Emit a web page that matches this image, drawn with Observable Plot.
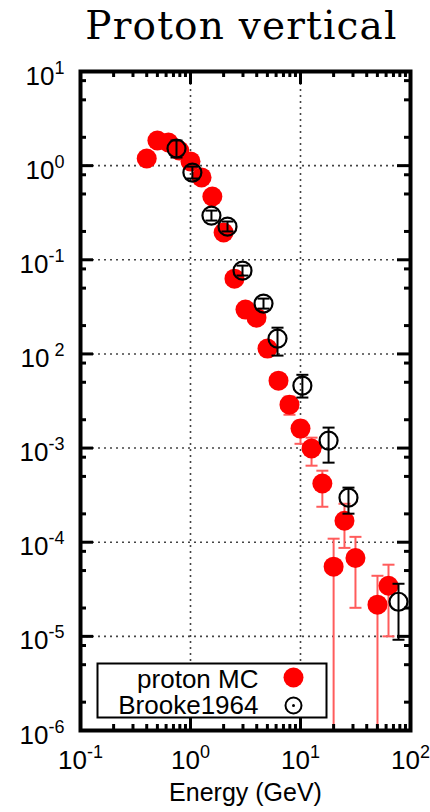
<!DOCTYPE html>
<html><head><meta charset="utf-8">
<script src="https://cdn.jsdelivr.net/npm/d3@7"></script>
<script src="https://cdn.jsdelivr.net/npm/@observablehq/plot@0.6"></script>
<style>html,body{margin:0;padding:0;background:#fff;}</style>
</head><body><div id="chart"></div>
<script>
// ---- data ----
const mcEnergy = [0.40, 0.50, 0.63, 0.79, 1.0, 1.26, 1.58, 2.0, 2.51, 3.16, 3.98, 5.01, 6.31, 7.94, 10.0, 12.6, 15.8, 20.0, 25.1, 31.6, 50.1, 63.1];
const mcFlux   = [1.19, 1.85, 1.76, 1.45, 1.11, 0.75, 0.47, 0.195, 0.063, 0.0296, 0.0243, 0.0114, 0.0052, 0.00289, 0.00161, 0.00099, 0.00042, 5.5e-5, 1.69e-4, 6.8e-5, 2.17e-5, 3.45e-5];
const mcErrLo  = [null, null, null, null, null, null, null, null, null, null, null, null, null, 0.00226, 0.00111, 0.00065, 0.000238, 0, 8.7e-5, 2.01e-5, 0, 1.0e-5];
const mcErrHi  = [null, null, null, null, null, null, null, null, null, null, null, null, null, 0.00352, 0.00195, 0.00129, 0.000575, 1.09e-4, 2.56e-4, 1.14e-4, 4.4e-5, 5.77e-5];

const bkEnergy = [0.746, 1.04, 1.55, 2.17, 2.97, 4.61, 6.18, 10.4, 18.0, 27.3, 77.8];
const bkFlux   = [1.52, 0.845, 0.295, 0.225, 0.0767, 0.0343, 0.01455, 0.0046, 0.0012, 2.97e-4, 2.33e-5];
const bkErrLo  = [1.22, 0.73, 0.261, 0.2, 0.068, 0.0303, 0.0096, 0.00344, 0.0007, 2.01e-4, 9.2e-6];
const bkErrHi  = [1.85, 0.977, 0.333, 0.255, 0.0867, 0.0387, 0.019, 0.006, 0.00165, 3.8e-4, 3.62e-5];

const xTicks = [0.1, 1, 10, 100];
const xTickLabels = ["10^-1", "10^0", "10^1", "10^2"];
const yTicks = [1e-6, 1e-5, 1e-4, 1e-3, 1e-2, 1e-1, 1, 10];
const yTickLabels = ["10^-6", "10^-5", "10^-4", "10^-3", "10^\u00a02", "10^-1", "10^0", "10^1"];
const xMinorMult = [2, 3, 4, 5, 6, 7, 8, 9];
const yMinorMult = [2, 5, 8];
const xDecades = [0.1, 1, 10];
const yDecades = [1e-6, 1e-5, 1e-4, 1e-3, 1e-2, 1e-1, 1];

const titleText = "Proton vertical";
const xLabel = "Energy (GeV)";
const legendLabels = ["proton MC", "Brooke1964"];

// ---- layout ----
const W = 430, H = 812, mL = 80, mR = 20, mT = 71, mB = 82;
const fw = W - mL - mR, fh = H - mT - mB;

const mc = mcEnergy.map((e, i) => ({e, f: mcFlux[i], lo: mcErrLo[i], hi: mcErrHi[i]}));
const mcErr = mc.filter(d => d.hi != null);
const bk = bkEnergy.map((e, i) => ({e, f: bkFlux[i], lo: bkErrLo[i], hi: bkErrHi[i]}));
const yMin = yTicks[0];

const xMinor = xDecades.flatMap(d => xMinorMult.map(m => d * m));
const yMinor = yDecades.flatMap(d => yMinorMult.map(m => d * m));
const xGrid = xTicks.slice(1, -1);
const yGrid = yTicks.slice(1, -1);

const capSym = {draw(ctx, size) { const w = Math.sqrt(size / Math.PI); ctx.moveTo(-w, 0); ctx.lineTo(w, 0); }};

const redErr = "#ff5c5c";
const majLen = 13, minLen = 6;

const svg = Plot.plot({
  width: W, height: H,
  marginLeft: mL, marginRight: mR, marginTop: mT, marginBottom: mB,
  style: {fontFamily: "'Liberation Sans', Arial, sans-serif", background: "#fff", color: "#000"},
  x: {type: "log", domain: [0.1, 100], axis: null},
  y: {type: "log", domain: [1e-6, 10], axis: null},
  marks: [
    // grid
    Plot.ruleX(xGrid, {x: d => d, stroke: "#444", strokeWidth: 1.6, strokeDasharray: "2,4"}),
    Plot.ruleY(yGrid, {y: d => d, stroke: "#444", strokeWidth: 1.6, strokeDasharray: "2,4"}),
    // proton MC error bars
    Plot.ruleX(mcErr, {x: "e", y1: d => Math.max(d.lo, yMin), y2: "hi", stroke: redErr, strokeWidth: 2}),
    Plot.dot(mcErr, {x: "e", y: "hi", symbol: capSym, r: 6, fill: "none", stroke: redErr, strokeWidth: 2}),
    Plot.dot(mcErr.filter(d => d.lo > 0), {x: "e", y: "lo", symbol: capSym, r: 6, fill: "none", stroke: redErr, strokeWidth: 2}),
    Plot.dot(mc, {x: "e", y: "f", r: 10, fill: "#ff0000", stroke: "none"}),
    // Brooke1964
    Plot.ruleX(bk, {x: "e", y1: "lo", y2: "hi", stroke: "#000", strokeWidth: 2}),
    Plot.dot(bk, {x: "e", y: "hi", symbol: capSym, r: 6, fill: "none", stroke: "#000", strokeWidth: 2}),
    Plot.dot(bk, {x: "e", y: "lo", symbol: capSym, r: 6, fill: "none", stroke: "#000", strokeWidth: 2}),
    Plot.dot(bk, {x: "e", y: "f", r: 9, fill: "none", stroke: "#000", strokeWidth: 2.2}),
    // frame
    Plot.frame({stroke: "#000", strokeWidth: 4}),
    // ticks: bottom, top, left, right
    Plot.ruleX(xTicks, {x: d => d, insetTop: fh - majLen, stroke: "#000", strokeWidth: 3}),
    Plot.ruleX(xTicks, {x: d => d, insetBottom: fh - majLen, stroke: "#000", strokeWidth: 3}),
    Plot.ruleX(xMinor, {x: d => d, insetTop: fh - minLen, stroke: "#000", strokeWidth: 3}),
    Plot.ruleX(xMinor, {x: d => d, insetBottom: fh - minLen, stroke: "#000", strokeWidth: 3}),
    Plot.ruleY(yTicks, {y: d => d, insetRight: fw - majLen, stroke: "#000", strokeWidth: 3}),
    Plot.ruleY(yTicks, {y: d => d, insetLeft: fw - majLen, stroke: "#000", strokeWidth: 3}),
    Plot.ruleY(yMinor, {y: d => d, insetRight: fw - minLen, stroke: "#000", strokeWidth: 3}),
    Plot.ruleY(yMinor, {y: d => d, insetLeft: fw - minLen, stroke: "#000", strokeWidth: 3}),
    // tick labels
    Plot.text(yTicks, {x: () => 0.1, y: d => d, text: (d, i) => yTickLabels[i], textAnchor: "end", lineAnchor: "bottom", dx: -16, dy: 13, fontSize: 26, fill: "#000"}),
    Plot.text(xTicks, {x: d => d, y: () => yMin, text: (d, i) => xTickLabels[i], textAnchor: "middle", lineAnchor: "bottom", dy: 38, fontSize: 26, fill: "#000"}),
    // axis label & title
    Plot.text([xLabel], {text: d => d, frameAnchor: "bottom", lineAnchor: "bottom", dy: 70, fontSize: 25, fill: "#000"}),
    Plot.text([titleText], {text: d => d, frameAnchor: "top", lineAnchor: "bottom", dy: -33, dx: -4, fontSize: 39, fill: "#000", fontFamily: "'DejaVu Serif', serif"}),
    // legend
    Plot.frame({insetLeft: 17, insetRight: 84, insetTop: fh - 67, insetBottom: 13, fill: "#fff", stroke: "#000", strokeWidth: 2}),
    Plot.text([legendLabels[0]], {text: d => d, frameAnchor: "bottom-left", textAnchor: "end", lineAnchor: "bottom", dx: 178, dy: -43, fontSize: 26, fill: "#000"}),
    Plot.text([legendLabels[1]], {text: d => d, frameAnchor: "bottom-left", textAnchor: "end", lineAnchor: "bottom", dx: 178, dy: -17, fontSize: 26, fill: "#000"}),
    Plot.dot([legendLabels[0]], {frameAnchor: "bottom-left", dx: 213, dy: -53, r: 10, fill: "#ff0000", stroke: "none"}),
    Plot.dot([legendLabels[1]], {frameAnchor: "bottom-left", dx: 213, dy: -25, r: 8, fill: "none", stroke: "#000", strokeWidth: 2}),
    Plot.dot([legendLabels[1]], {frameAnchor: "bottom-left", dx: 213, dy: -25, r: 1.5, fill: "#000", stroke: "none"})
  ]
});

// render exponents as superscripts
d3.select(svg).selectAll("text").each(function() {
  const t = this.textContent;
  if (t === titleText) { this.setAttribute("letter-spacing", "1.2"); return; }
  if (!t.includes("^")) return;
  const parts = t.split("^");
  const s = d3.select(this);
  s.text(parts[0]);
  s.append("tspan").attr("dy", -11).attr("font-size", 18).text(parts[1]);
});

document.getElementById("chart").appendChild(svg);
</script>
</body></html>
